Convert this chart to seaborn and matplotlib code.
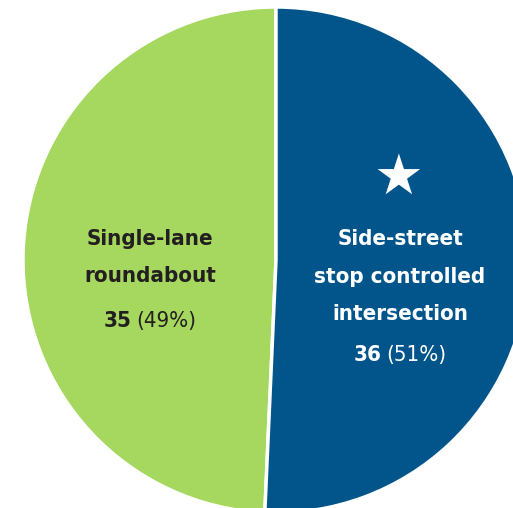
import matplotlib
matplotlib.use("Agg")
import matplotlib.pyplot as plt
import seaborn as sns
from matplotlib.offsetbox import TextArea, HPacker, AnnotationBbox

sns.set_theme(style="white")
plt.rcParams['font.family'] = ['DejaVu Sans']
plt.rcParams['font.stretch'] = 'condensed'

categories = ["Single-lane\nroundabout", "Side-street\nstop controlled\nintersection"]
counts = [35, 36]
colors = ["#A6D75E", "#02558B"]
text_colors = ["#231F20", "white"]

W, H = 513, 508
R_PX = 253.0
CX, CY = 276.0, 260.0


def px(x, y):
    # pixel position (from top-left) -> data coords, pie radius = 1
    return (x - CX) / R_PX, (CY - y) / R_PX


fig = plt.figure(figsize=(W / 100, H / 100), dpi=100)
ax = fig.add_axes([0, 0, 1, 1])
ax.pie(counts, colors=colors, startangle=90, counterclock=True, radius=1,
       wedgeprops=dict(edgecolor="white", linewidth=2.5))
ax.set_xlim(-CX / R_PX, (W - CX) / R_PX)
ax.set_ylim(-(H - CY) / R_PX, CY / R_PX)
ax.set_aspect("equal")
ax.axis("off")

total = sum(counts)
fs = 16

# label positions (layout only)
label_layout = [
    dict(x=150, baselines=[245, 282], value_y=321),
    dict(x=400, baselines=[245, 283, 320], value_y=355),
]

for cat, n, tc, lay in zip(categories, counts, text_colors, label_layout):
    for line, by in zip(cat.split("\n"), lay["baselines"]):
        ax.text(*px(lay["x"], by), line, ha="center", va="baseline",
                fontsize=fs, fontweight="bold", color=tc, fontstretch="condensed")
    pct = round(n / total * 100)
    box = HPacker(children=[
        TextArea(str(n), textprops=dict(fontsize=fs, fontweight="bold", color=tc,
                                        fontstretch="condensed")),
        TextArea("(%d%%)" % pct, textprops=dict(fontsize=fs, color=tc,
                                                fontstretch="condensed")),
    ], align="baseline", pad=0, sep=4)
    ab = AnnotationBbox(box, px(lay["x"], lay["value_y"]), frameon=False,
                        box_alignment=(0.5, 0.5), pad=0)
    ax.add_artist(ab)

# star marking the preferred option
ax.text(*px(398, 179), "\u2605", ha="center", va="center", fontsize=40,
        color="white", fontstretch="normal")

fig.savefig("out.png", dpi=100)
